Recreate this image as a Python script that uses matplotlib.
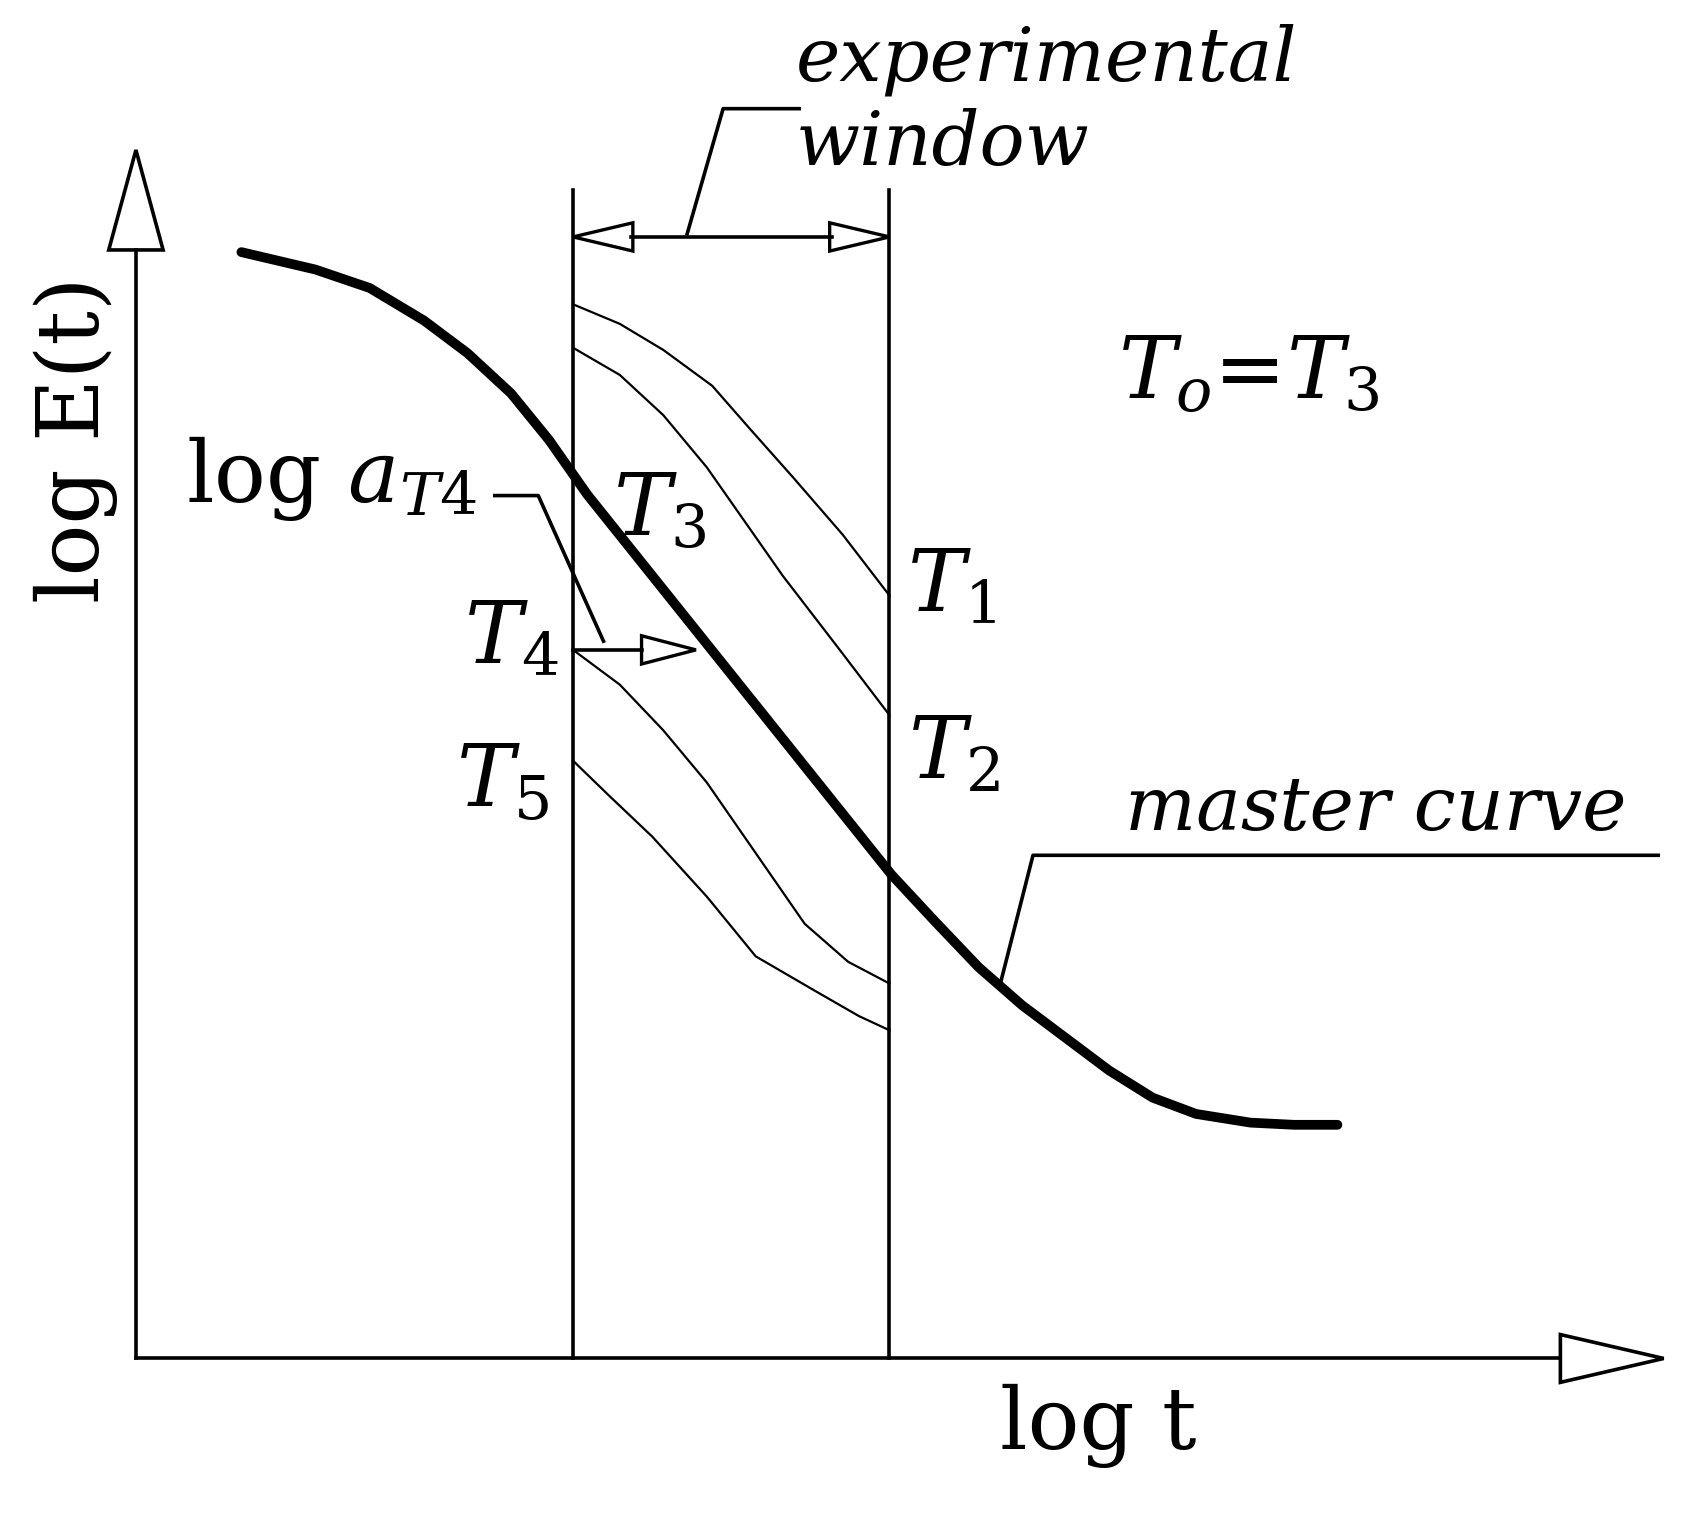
import matplotlib
matplotlib.use("Agg")
import matplotlib.pyplot as plt
from matplotlib.patches import Polygon

plt.rcParams['mathtext.fontset'] = 'dejavuserif'
plt.rcParams['font.family'] = ['DejaVu Serif']

W, H = 1568, 1406
# curve data (schematic)
master_x = [222, 290, 340, 390, 430, 470, 505, 540, 580, 620, 660, 700, 740, 780, 820, 860, 900, 940, 980, 1020, 1060, 1100, 1150, 1190, 1230]
master_y = [232, 248, 265, 295, 325, 362, 405, 455, 505, 555, 605, 655, 705, 755, 805, 848, 890, 925, 955, 985, 1010, 1025, 1033, 1035, 1035]
t1_x = [527, 570, 610, 655, 690, 730, 775, 818]
t1_y = [280, 298, 322, 355, 395, 440, 492, 548]
t2_x = [527, 570, 610, 650, 685, 720, 770, 818]
t2_y = [320, 345, 382, 430, 480, 530, 595, 658]
t4_x = [527, 570, 610, 650, 695, 740, 780, 818]
t4_y = [598, 630, 672, 720, 785, 850, 885, 905]
t5_x = [527, 560, 600, 650, 695, 750, 790, 818]
t5_y = [700, 732, 770, 825, 880, 912, 935, 948]

fig = plt.figure(figsize=(17.05, 15.28), dpi=100)
ax = fig.add_axes([0, 0, 1, 1])
ax.set_xlim(0, W)
ax.set_ylim(H, 0)
ax.axis('off')

k = dict(color='black', lw=2.6)
ax.plot([125, 125], [1250, 230], **k)
ax.plot([125, 1435], [1250, 1250], **k)
ax.add_patch(Polygon([[100, 230], [150, 230], [125, 138]], closed=True, fill=False, lw=2.6, ec='black'))
ax.add_patch(Polygon([[1435, 1228], [1435, 1272], [1530, 1250]], closed=True, fill=False, lw=2.6, ec='black'))
ax.plot([527, 527], [175, 1250], **k)
ax.plot([818, 818], [175, 1250], **k)
ax.plot([580, 765], [218, 218], **k)
ax.add_patch(Polygon([[527, 218], [582, 205], [582, 231]], closed=True, fill=False, lw=2.4, ec='black'))
ax.add_patch(Polygon([[818, 218], [763, 205], [763, 231]], closed=True, fill=False, lw=2.4, ec='black'))
ax.plot([632, 665, 735], [215, 100, 100], **k)

ax.plot(master_x, master_y, color='black', lw=7, solid_capstyle='round', solid_joinstyle='round')
for xs, ys in [(t1_x, t1_y), (t2_x, t2_y), (t4_x, t4_y), (t5_x, t5_y)]:
    ax.plot(xs, ys, color='black', lw=1.6)

ax.plot([527, 590], [598, 598], **k)
ax.add_patch(Polygon([[590, 585], [590, 611], [640, 598]], closed=True, fill=False, lw=2.4, ec='black'))
ax.plot([455, 495, 555], [456, 456, 590], **k)
ax.plot([920, 950, 1525], [905, 787, 787], **k)

fs = 54
ax.text(732, 55, 'experimental', fontsize=fs, style='italic', va='center', ha='left')
ax.text(732, 133, 'window', fontsize=fs, style='italic', va='center', ha='left')
ax.text(1265, 745, 'master curve', fontsize=fs, style='italic', va='center', ha='center')
ax.text(70, 405, 'log E(t)', fontsize=62, rotation=90, va='center', ha='center')
ax.text(1010, 1312, 'log t', fontsize=62, va='center', ha='center')
ax.text(1148, 345, r'$T_o$=$T_3$', fontsize=62, va='center', ha='center')
ax.text(305, 440, r'log $a_{T4}$', fontsize=62, va='center', ha='center')
ax.text(607, 470, r'$T_3$', fontsize=62, va='center', ha='center')
ax.text(875, 540, r'$T_1$', fontsize=62, va='center', ha='center')
ax.text(877, 695, r'$T_2$', fontsize=62, va='center', ha='center')
ax.text(470, 588, r'$T_4$', fontsize=62, va='center', ha='center')
ax.text(462, 720, r'$T_5$', fontsize=62, va='center', ha='center')

fig.savefig('out.png', dpi=100)
